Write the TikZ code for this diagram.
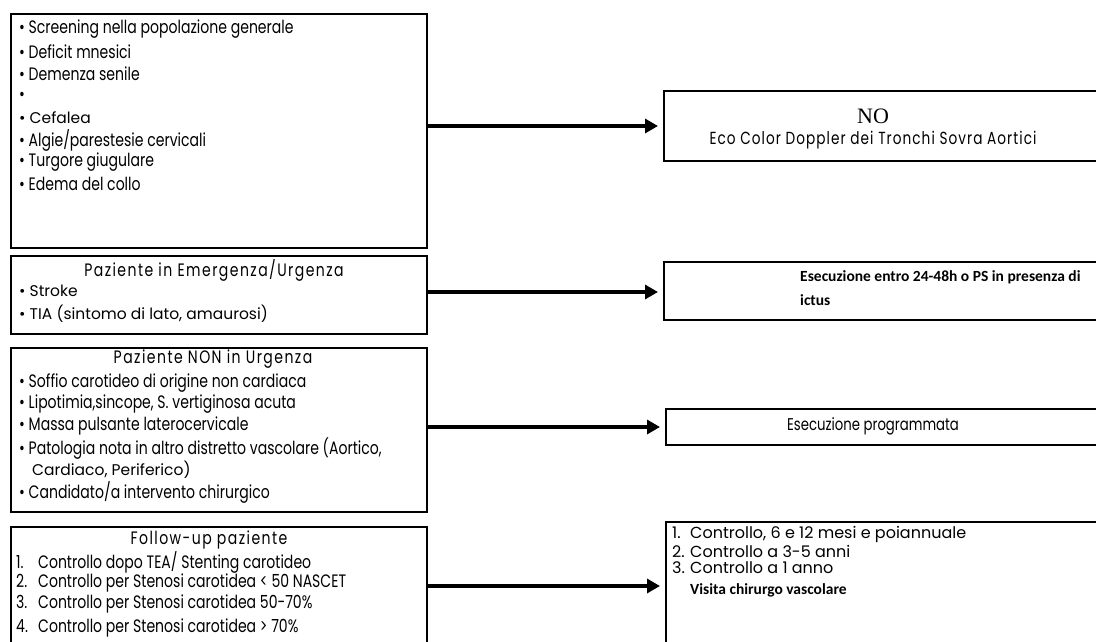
\documentclass[tikz,border=0pt]{standalone}
\usepackage{fontspec}
\usetikzlibrary{arrows.meta}
\newfontfamily\gth[FakeStretch=0.78]{Poppins}
\newfontfamily\gthL[FakeStretch=0.78,LetterSpace=8]{Poppins}
\newfontfamily\gthE[FakeStretch=0.78,LetterSpace=6]{Poppins}
\newfontfamily\gtw{Poppins}
\newfontfamily\calfont{Carlito}
\newfontfamily\serf{Liberation Serif}
\tikzset{
  box/.style={draw, line width=2pt, inner sep=0pt, anchor=north west},
  arr/.style={-{Triangle[length=13pt,width=14pt]}, line width=4pt, shorten >=5pt},
  t/.style={anchor=west, inner sep=0pt, font=\gth\fontsize{18}{20}\selectfont},
  tw/.style={anchor=west, inner sep=0pt, font=\gtw\fontsize{15.5}{18}\selectfont},
  tr/.style={anchor=west, inner sep=0pt, font=\gtw\fontsize{16}{17}\selectfont},
  tt/.style={anchor=center, inner sep=0pt, font=\gthL\fontsize{18}{20}\selectfont},
  te/.style={anchor=center, inner sep=0pt, font=\gthE\fontsize{17.5}{20}\selectfont},
  tp/.style={anchor=center, inner sep=0pt, font=\gth\fontsize{17}{20}\selectfont},
  tb/.style={anchor=west, inner sep=0pt, font=\calfont\bfseries\fontsize{15.5}{18}\selectfont},
}
\begin{document}
\begin{tikzpicture}[x=1pt,y=-1pt]
\useasboundingbox (0,0) rectangle (1096,642);
% left boxes
\node[box, minimum width=416pt, minimum height=234pt] (b1) at (10,13) {};
\node[box, minimum width=416pt, minimum height=78pt] (b2) at (10,255) {};
\node[box, minimum width=416pt, minimum height=164pt] (b3) at (10,347) {};
\node[box, minimum width=416pt, minimum height=140pt] (b4) at (10,526) {};
% right boxes
\node[box, minimum width=480pt, minimum height=70pt] (r1) at (663,90) {};
\node[box, minimum width=480pt, minimum height=58pt] (r2) at (663,261) {};
\node[box, minimum width=480pt, minimum height=36pt] (r3) at (665,408) {};
\node[box, minimum width=480pt, minimum height=140pt] (r4) at (665,521) {};
\coordinate (a4) at (665,586);
\coordinate (a2) at (663,292);
% arrows
\draw[arr] (r1.west -| b1.east) -- (r1.west);
\draw[arr] (a2 -| b2.east) -- (a2);
\draw[arr] (r3.west -| b3.east) -- (r3.west);
\draw[arr] (a4 -| b4.east) -- (a4);
% box 1 text
\node[t] (l11) at (19,29) {• Screening nella popolazione generale};
\node[t] (l12) at (19,52) {• Deficit mnesici};
\node[t] (l13) at (19,74) {• Demenza senile};
\node[t] (l14) at (19,96) {•};
\node[tw] (l15) at (19,118) {• Cefalea};
\node[t] (l16) at (19,140) {• Algie/parestesie cervicali};
\node[t] (l17) at (19,162) {• Turgore giugulare};
\node[t] (l18) at (19,184) {• Edema del collo};
% box 2 text
\node[tt] (l20) at (214,270) {Paziente in Emergenza/Urgenza};
\node[tw] (l21) at (19,291) {• Stroke};
\node[tw] (l22) at (19,314) {• TIA (sintomo di lato, amaurosi)};
% box 3 text
\node[tt] (l30) at (213,359) {Paziente NON in Urgenza};
\node[t] (l31) at (19,383) {• Soffio carotideo di origine non cardiaca};
\node[t] (l32) at (19,404) {• Lipotimia,sincope, S. vertiginosa acuta};
\node[t] (l33) at (19,426) {• Massa pulsante laterocervicale};
\node[t] (l34) at (19,449) {• Patologia nota in altro distretto vascolare (Aortico,};
\node[tw] (l35) at (32,470) {Cardiaco, Periferico)};
\node[t] (l36) at (19,492) {• Candidato/a intervento chirurgico};
% box 4 text
\node[tt] (l40) at (209,540) {Follow-up paziente};
\node[t] (l41) at (16,562) {\makebox[22pt][l]{1.}Controllo dopo TEA/ Stenting carotideo};
\node[t] (l42) at (16,583) {\makebox[22pt][l]{2.}Controllo per Stenosi carotidea < 50 NASCET};
\node[t] (l43) at (16,604) {\makebox[22pt][l]{3.}Controllo per Stenosi carotidea 50-70\%};
\node[t] (l44) at (16,628) {\makebox[22pt][l]{4.}Controllo per Stenosi carotidea > 70\%};
% right texts
\node[anchor=center, inner sep=0pt, font=\serf\fontsize{22}{24}\selectfont] (n1) at (873,116) {NO};
\node[te] (n2) at (873,140) {Eco Color Doppler dei Tronchi Sovra Aortici};
\node[tb] (e1) at (800,277) {Esecuzione entro 24-48h o PS in presenza di};
\node[tb] (e2) at (800,300) {ictus};
\node[tp] (p1) at (873,426) {Esecuzione programmata};
\node[tr] (c1) at (672,534) {\makebox[18pt][l]{1.}Controllo, 6 e 12 mesi e poiannuale};
\node[tr] (c2) at (672,551) {\makebox[18pt][l]{2.}Controllo a 3-5 anni};
\node[tr] (c3) at (672,568) {\makebox[18pt][l]{3.}Controllo a 1 anno};
\node[tb] (c4) at (690,590) {Visita chirurgo vascolare};
\end{tikzpicture}
\end{document}
